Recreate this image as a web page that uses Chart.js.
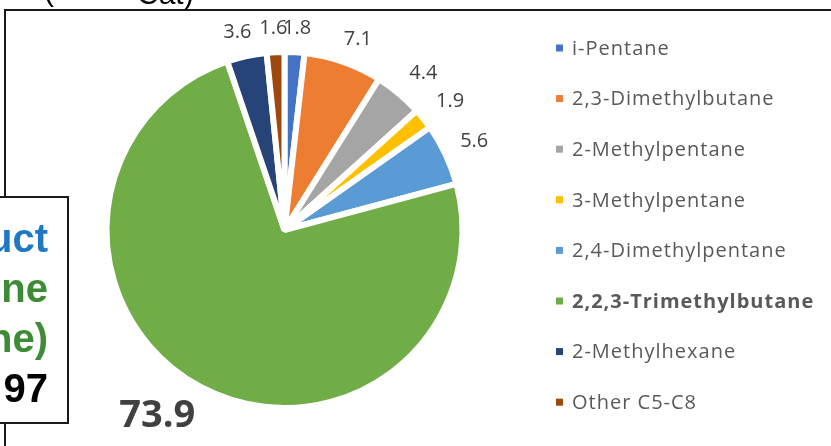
<!DOCTYPE html>
<html>
<head>
<meta charset="utf-8">
<title>Product distribution</title>
<script src="https://cdn.jsdelivr.net/npm/chart.js@4.4.1/dist/chart.umd.min.js"></script>
<style>
    body { margin: 0; background: #fff; }
    canvas { display: block; }
</style>
</head>
<body>
<canvas id="productChart" width="831" height="446"></canvas>
<script>
// Chart data
const categories = [
    'i-Pentane',
    '2,3-Dimethylbutane',
    '2-Methylpentane',
    '3-Methylpentane',
    '2,4-Dimethylpentane',
    '2,2,3-Trimethylbutane',
    '2-Methylhexane',
    'Other C5-C8'
];
const values = [1.8, 7.1, 4.4, 1.9, 5.6, 73.9, 3.6, 1.6];
const highlighted = '2,2,3-Trimethylbutane';

// Side box text (cut off on the left in the source figure)
const boxLines = ['uct', 'ne', 'ne)', '97'];
const boxColors = ['#1f78c4', '#3d8c35', '#3d8c35', '#000000'];

const sliceColors = ['#4472c4', '#ed7d31', '#a5a5a5', '#ffc000', '#5b9bd5', '#70ad47', '#264478', '#9e480e'];

const clamp = (v) => Math.max(-1, Math.min(1, v));

// Frame, cropped title and the side box
const framePlugin = {
    id: 'frame',
    beforeDraw(chart) {
        const ctx = chart.ctx;
        ctx.save();
        ctx.fillStyle = '#fff';
        ctx.fillRect(0, 0, chart.width, chart.height);

        ctx.strokeStyle = '#1a1a1a';
        ctx.lineWidth = 2;
        ctx.beginPath();
        ctx.moveTo(5, chart.height);
        ctx.lineTo(5, 10);
        ctx.lineTo(chart.width, 10);
        ctx.stroke();

        ctx.fillStyle = '#000';
        ctx.font = '30px "Liberation Sans", Arial, sans-serif';
        ctx.textBaseline = 'alphabetic';
        ctx.textAlign = 'left';
        ctx.fillText('(', 44, 1);
        ctx.fillText('Cat)', 137, 4);
        ctx.restore();
    },
    afterDraw(chart) {
        const ctx = chart.ctx;
        ctx.save();
        ctx.fillStyle = '#fff';
        ctx.fillRect(-5, 197, 73, 226);
        ctx.strokeStyle = '#1a1a1a';
        ctx.lineWidth = 2;
        ctx.strokeRect(-5, 197, 73, 226);

        ctx.font = 'bold 40px "Liberation Sans", Arial, sans-serif';
        ctx.textAlign = 'right';
        ctx.textBaseline = 'alphabetic';
        boxLines.forEach((line, i) => {
            ctx.fillStyle = boxColors[i];
            ctx.fillText(line, 48, 252 + i * 50);
        });
        ctx.restore();
    }
};

// Value labels outside each slice
const valueLabels = {
    id: 'valueLabels',
    afterDatasetsDraw(chart) {
        const ctx = chart.ctx;
        const meta = chart.getDatasetMeta(0);
        const ds = chart.data.datasets[0];
        const maxVal = Math.max(...ds.data);
        ctx.save();
        ctx.fillStyle = '#404040';
        ctx.textAlign = 'center';
        ctx.textBaseline = 'middle';

        meta.data.forEach((arc, i) => {
            const { x, y, startAngle, endAngle, outerRadius } = arc.getProps(['x', 'y', 'startAngle', 'endAngle', 'outerRadius'], true);
            const mid = (startAngle + endAngle) / 2;
            const ux = Math.cos(mid);
            const uy = Math.sin(mid);
            const big = ds.data[i] === maxVal;

            ctx.font = big ? 'bold 38px "Open Sans", sans-serif' : '20px "Open Sans", sans-serif';
            const text = ds.data[i].toFixed(1);
            const hw = ctx.measureText(text).width / 2;
            const hh = big ? 15 : 8;

            const r = outerRadius - ds.borderWidth / 2 + 19;
            const lx = x + ux * r + hw * clamp(ux * 2);
            const ly = y + uy * r + hh * clamp(uy * 2);
            ctx.fillText(text, lx, ly);
        });
        ctx.restore();
    }
};

// Legend drawn by hand so one entry can be bold
const sideLegend = {
    id: 'sideLegend',
    afterDraw(chart) {
        const ctx = chart.ctx;
        const colors = chart.data.datasets[0].backgroundColor;
        ctx.save();
        ctx.textAlign = 'left';
        ctx.textBaseline = 'middle';
        ctx.letterSpacing = '1px';
        chart.data.labels.forEach((label, i) => {
            const cy = 48 + i * 50.6;
            ctx.fillStyle = colors[i];
            ctx.fillRect(556, cy - 3.5, 7, 7);
            ctx.fillStyle = '#595959';
            ctx.font = (label === highlighted ? 'bold ' : '') + '20px "Open Sans", sans-serif';
            ctx.fillText(label, 572, cy + 1);
        });
        ctx.restore();
    }
};

const chart = new Chart(document.getElementById('productChart'), {
    type: 'pie',
    data: {
        labels: categories,
        datasets: [{
            data: values,
            backgroundColor: sliceColors,
            borderColor: '#ffffff',
            borderWidth: 6
        }]
    },
    options: {
        responsive: false,
        animation: false,
        radius: 178,
        layout: {
            padding: { left: 0, right: 262, top: 14, bottom: 0 }
        },
        plugins: {
            legend: { display: false },
            tooltip: { enabled: false }
        }
    },
    plugins: [framePlugin, valueLabels, sideLegend]
});
</script>
</body>
</html>
